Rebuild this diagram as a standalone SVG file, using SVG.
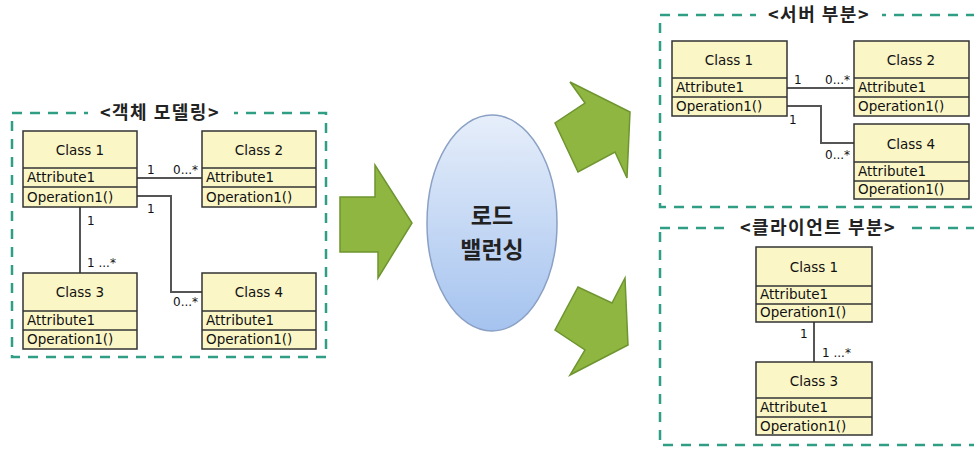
<svg xmlns="http://www.w3.org/2000/svg" width="974" height="450" viewBox="0 0 974 450">
<style>
.frame{fill:none;stroke:#2f9e84;stroke-width:2.5;stroke-dasharray:10 8}
.tbg{fill:#fff}
.title{font-family:"Noto Sans CJK KR","Noto Sans",sans-serif;font-size:18px;font-weight:700;fill:#222;text-anchor:middle;letter-spacing:1.5px}
.box{fill:#fbf6c6;stroke:#333;stroke-width:1.5}
.sep{stroke:#333;stroke-width:1.3}
.cn{font-family:"DejaVu Sans",sans-serif;font-size:13.5px;fill:#111;text-anchor:middle}
.ct{font-family:"DejaVu Sans",sans-serif;font-size:13.5px;fill:#111}
.lbl{font-family:"DejaVu Sans",sans-serif;font-size:12px;fill:#111}
.conn{fill:none;stroke:#555;stroke-width:2}
.arrow{fill:#8fb640;stroke:#6e9530;stroke-width:1.5;stroke-linejoin:miter}
.lb{font-family:"Noto Sans CJK KR","Noto Sans",sans-serif;font-size:23px;font-weight:700;fill:#222;text-anchor:middle}
</style>
<defs>
<linearGradient id="eg" x1="0" y1="0" x2="0" y2="1">
<stop offset="0" stop-color="#e6eefa"/>
<stop offset="1" stop-color="#a5c3ef"/>
</linearGradient>
</defs>
<rect width="974" height="450" fill="#fff"/>

<g id="frames">
<rect class="frame" x="12" y="113" width="314" height="244"/>
<rect class="tbg" x="88" y="100" width="146" height="24"/>
<text class="title" x="160" y="119">&lt;객체 모델링&gt;</text>
<rect class="frame" x="660" y="15" width="330" height="192"/>
<rect class="tbg" x="756" y="2" width="126" height="24"/>
<text class="title" x="819" y="21">&lt;서버 부분&gt;</text>
<rect class="frame" x="660" y="228" width="330" height="217"/>
<rect class="tbg" x="726" y="215" width="184" height="24"/>
<text class="title" x="818" y="234">&lt;클라이언트 부분&gt;</text>
</g>

<g id="connectors">
<line class="conn" x1="137" y1="178" x2="202" y2="178"/>
<polyline class="conn" points="137,196 171,196 171,292 202,292"/>
<line class="conn" x1="80" y1="207" x2="80" y2="273"/>
<text class="lbl" x="147" y="174">1</text>
<text class="lbl" x="173" y="174">0...*</text>
<text class="lbl" x="147" y="213">1</text>
<text class="lbl" x="173" y="306">0...*</text>
<text class="lbl" x="87" y="225">1</text>
<text class="lbl" x="87" y="267">1 ...*</text>

<line class="conn" x1="787" y1="88" x2="854" y2="88"/>
<polyline class="conn" points="787,106 821,106 821,143 854,143"/>
<text class="lbl" x="794" y="84">1</text>
<text class="lbl" x="825" y="84">0...*</text>
<text class="lbl" x="789" y="124">1</text>
<text class="lbl" x="825" y="159">0...*</text>

<line class="conn" x1="814" y1="322" x2="814" y2="362"/>
<text class="lbl" x="800" y="338">1</text>
<text class="lbl" x="822" y="357">1 ...*</text>
</g>

<g id="arrows">
<polygon class="arrow" points="340,197 375,197 375,165 412,223 378,278 378,252 340,252"/>
<polygon class="arrow" points="570,82 630,112 627,178 615,152 578,172 555,123 585,103"/>
<polygon class="arrow" points="625,278 628,345 570,375 585,350 555,330 578,287 612,303"/>
</g>

<g id="loadbalancer">
<ellipse cx="492" cy="223" rx="65" ry="108" fill="url(#eg)" stroke="#8aa0c4" stroke-width="1.5"/>
<text class="lb" x="492" y="224">로드</text>
<text class="lb" x="492" y="258">밸런싱</text>
</g>

<g id="m-class1" transform="translate(23,131)">
<rect class="box" width="114" height="76"/><line class="sep" x1="0" y1="37" x2="114" y2="37"/><line class="sep" x1="0" y1="56" x2="114" y2="56"/>
<text class="cn" x="57" y="24">Class 1</text><text class="ct" x="4" y="51">Attribute1</text><text class="ct" x="4" y="71">Operation1()</text>
</g>
<g id="m-class2" transform="translate(202,131)">
<rect class="box" width="114" height="76"/><line class="sep" x1="0" y1="37" x2="114" y2="37"/><line class="sep" x1="0" y1="56" x2="114" y2="56"/>
<text class="cn" x="57" y="24">Class 2</text><text class="ct" x="4" y="51">Attribute1</text><text class="ct" x="4" y="71">Operation1()</text>
</g>
<g id="m-class3" transform="translate(23,273)">
<rect class="box" width="114" height="76"/><line class="sep" x1="0" y1="38" x2="114" y2="38"/><line class="sep" x1="0" y1="57" x2="114" y2="57"/>
<text class="cn" x="57" y="24">Class 3</text><text class="ct" x="4" y="52">Attribute1</text><text class="ct" x="4" y="71">Operation1()</text>
</g>
<g id="m-class4" transform="translate(202,273)">
<rect class="box" width="114" height="76"/><line class="sep" x1="0" y1="38" x2="114" y2="38"/><line class="sep" x1="0" y1="57" x2="114" y2="57"/>
<text class="cn" x="57" y="24">Class 4</text><text class="ct" x="4" y="52">Attribute1</text><text class="ct" x="4" y="71">Operation1()</text>
</g>

<g id="s-class1" transform="translate(672,41)">
<rect class="box" width="115" height="75"/><line class="sep" x1="0" y1="37" x2="115" y2="37"/><line class="sep" x1="0" y1="56" x2="115" y2="56"/>
<text class="cn" x="57" y="24">Class 1</text><text class="ct" x="4" y="51">Attribute1</text><text class="ct" x="4" y="70">Operation1()</text>
</g>
<g id="s-class2" transform="translate(854,41)">
<rect class="box" width="115" height="75"/><line class="sep" x1="0" y1="37" x2="115" y2="37"/><line class="sep" x1="0" y1="56" x2="115" y2="56"/>
<text class="cn" x="57" y="24">Class 2</text><text class="ct" x="4" y="51">Attribute1</text><text class="ct" x="4" y="70">Operation1()</text>
</g>
<g id="s-class4" transform="translate(854,124)">
<rect class="box" width="115" height="75"/><line class="sep" x1="0" y1="38" x2="115" y2="38"/><line class="sep" x1="0" y1="57" x2="115" y2="57"/>
<text class="cn" x="57" y="25">Class 4</text><text class="ct" x="4" y="52">Attribute1</text><text class="ct" x="4" y="70">Operation1()</text>
</g>

<g id="c-class1" transform="translate(756,247)">
<rect class="box" width="116" height="75"/><line class="sep" x1="0" y1="39" x2="116" y2="39"/><line class="sep" x1="0" y1="57" x2="116" y2="57"/>
<text class="cn" x="58" y="25">Class 1</text><text class="ct" x="4" y="52">Attribute1</text><text class="ct" x="4" y="70">Operation1()</text>
</g>
<g id="c-class3" transform="translate(756,362)">
<rect class="box" width="116" height="73"/><line class="sep" x1="0" y1="36" x2="116" y2="36"/><line class="sep" x1="0" y1="55" x2="116" y2="55"/>
<text class="cn" x="58" y="24">Class 3</text><text class="ct" x="4" y="50">Attribute1</text><text class="ct" x="4" y="69">Operation1()</text>
</g>
</svg>
